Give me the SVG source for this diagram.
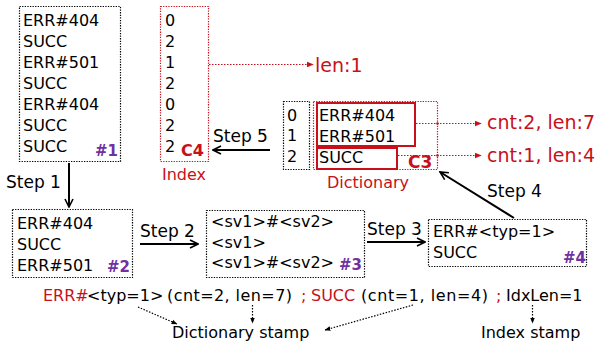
<svg xmlns="http://www.w3.org/2000/svg" width="600" height="349" viewBox="0 0 600 349">
<style>
text{font-family:"DejaVu Sans",sans-serif;font-size:16px;fill:#000}
.red{fill:#c8101a}
.tag{font-weight:bold;font-size:15px;fill:#7030a0}
.ctag{font-weight:bold;font-size:15px;fill:#c8101a}
.big{font-size:19px;fill:#c8101a}
.step{font-size:17px}
.dbox{fill:none;stroke:#000;stroke-width:1.2;stroke-dasharray:1.3 1.3}
.rbox{fill:none;stroke:#c8101a;stroke-width:1.2;stroke-dasharray:1.3 1.3}
.sbox{fill:none;stroke:#c8101a;stroke-width:2}
.arr{fill:none;stroke:#000;stroke-width:2;marker-end:url(#ah)}
.rarr{fill:none;stroke:#c8101a;stroke-width:1.2;stroke-dasharray:1.5 1.5;marker-end:url(#rh)}
.karr{fill:none;stroke:#000;stroke-width:1.2;stroke-dasharray:1.5 1.5;marker-end:url(#kh)}
</style>
<defs>
<marker id="ah" viewBox="0 0 10 10" refX="9" refY="5" markerWidth="5" markerHeight="5" orient="auto" markerUnits="strokeWidth">
<path d="M1,1 L9,5 L1,9" fill="none" stroke="#000" stroke-width="1.6"/>
</marker>
<marker id="rh" viewBox="0 0 10 10" refX="9" refY="5" markerWidth="6" markerHeight="6" orient="auto" markerUnits="strokeWidth">
<path d="M0,1 L10,5 L0,9 z" fill="#c8101a"/>
</marker>
<marker id="kh" viewBox="0 0 10 10" refX="9" refY="5" markerWidth="5" markerHeight="5" orient="auto" markerUnits="strokeWidth">
<path d="M0,1 L10,5 L0,9 z" fill="#000"/>
</marker>
</defs>

<g id="box1">
<rect class="dbox" x="19.5" y="6.5" width="101" height="155"/>
<text x="23" y="26">ERR#404</text>
<text x="23" y="47">SUCC</text>
<text x="23" y="68">ERR#501</text>
<text x="23" y="89">SUCC</text>
<text x="23" y="110">ERR#404</text>
<text x="23" y="131">SUCC</text>
<text x="23" y="152">SUCC</text>
<text class="tag" x="95" y="156">#1</text>
</g>

<g id="index">
<rect class="rbox" x="160.5" y="6.5" width="48" height="155"/>
<text x="165" y="26">0</text>
<text x="165" y="47">2</text>
<text x="165" y="68">1</text>
<text x="165" y="89">2</text>
<text x="165" y="110">0</text>
<text x="165" y="131">2</text>
<text x="165" y="152">2</text>
<text class="ctag" x="181" y="156" style="font-size:16px">C4</text>
<text class="red" x="162" y="180">Index</text>
</g>

<g id="len1">
<text class="big" x="315" y="72">len:1</text>
</g>

<g id="dictidx">
<rect class="dbox" x="283.5" y="101.5" width="26" height="68"/>
<text x="287" y="121">0</text>
<text x="287" y="141">1</text>
<text x="287" y="162">2</text>
</g>

<g id="dictionary">
<rect class="rbox" x="313.5" y="101.5" width="124" height="68"/>
<rect class="sbox" x="317" y="103" width="98" height="43"/>
<rect class="sbox" x="317" y="148" width="80" height="21"/>
<text x="319" y="121">ERR#404</text>
<text x="319" y="142">ERR#501</text>
<text x="319" y="163">SUCC</text>
<text class="ctag" x="408" y="168" style="font-size:17px">C3</text>
<text class="red" x="327" y="188">Dictionary</text>
</g>

<g id="cnt2">
<text class="big" x="487" y="129">cnt:2, len:7</text>
</g>
<g id="cnt1">
<text class="big" x="487" y="162">cnt:1, len:4</text>
</g>

<g id="box2">
<rect class="dbox" x="12.5" y="209.5" width="120" height="68"/>
<text x="17" y="229">ERR#404</text>
<text x="17" y="250">SUCC</text>
<text x="17" y="271">ERR#501</text>
<text class="tag" x="107" y="272">#2</text>
</g>

<g id="box3">
<rect class="dbox" x="206.5" y="210.5" width="158" height="67"/>
<text x="211" y="227">&lt;sv1&gt;#&lt;sv2&gt;</text>
<text x="211" y="248">&lt;sv1&gt;</text>
<text x="211" y="268">&lt;sv1&gt;#&lt;sv2&gt;</text>
<text class="tag" x="339" y="270">#3</text>
</g>

<g id="box4">
<rect class="dbox" x="428.5" y="219.5" width="158" height="47"/>
<text x="433" y="237">ERR#&lt;typ=1&gt;</text>
<text x="433" y="258">SUCC</text>
<text class="tag" x="563" y="263">#4</text>
</g>

<g id="stamp">
<text class="red" x="43" y="301">ERR#</text>
<text x="87" y="301">&lt;typ=1&gt;</text>
<text x="167" y="301" textLength="125" lengthAdjust="spacing">(cnt=2, len=7)</text>
<text class="red" x="301" y="301">;</text>
<text class="red" x="311" y="301">SUCC</text>
<text x="361" y="301" textLength="127" lengthAdjust="spacing">(cnt=1, len=4)</text>
<text class="red" x="496" y="301">;</text>
<text x="506" y="301">IdxLen=1</text>
<text x="172" y="338">Dictionary stamp</text>
<text x="481" y="338">Index stamp</text>
</g>

<g id="steps">
<text class="step" x="6" y="188">Step 1</text>
<text class="step" x="140" y="237">Step 2</text>
<text class="step" x="367" y="235">Step 3</text>
<text class="step" x="487" y="197">Step 4</text>
<text class="step" x="213" y="142">Step 5</text>
</g>

<g id="connectors">
<line class="arr" x1="69" y1="163" x2="69" y2="207"/>
<line class="arr" x1="140" y1="244" x2="198" y2="244"/>
<line class="arr" x1="367" y1="242" x2="425" y2="242"/>
<line class="arr" x1="514" y1="218" x2="440" y2="172"/>
<line class="arr" x1="270" y1="150" x2="213" y2="150"/>
<line class="rarr" x1="209" y1="64.5" x2="313" y2="64.5"/>
<line class="rarr" x1="416" y1="123.5" x2="481" y2="123.5"/>
<line class="rarr" x1="398" y1="155.5" x2="481" y2="155.5"/>
<circle cx="437.5" cy="123.5" r="1.3" fill="#c8101a"/>
<circle cx="437.5" cy="155.5" r="1.3" fill="#c8101a"/>
<line class="karr" x1="138" y1="307" x2="177" y2="324"/>
<line class="karr" x1="252.5" y1="305" x2="252.5" y2="323"/>
<line class="karr" x1="413" y1="305" x2="325" y2="330"/>
<line class="karr" x1="532.5" y1="305" x2="532.5" y2="323"/>
</g>
</svg>
